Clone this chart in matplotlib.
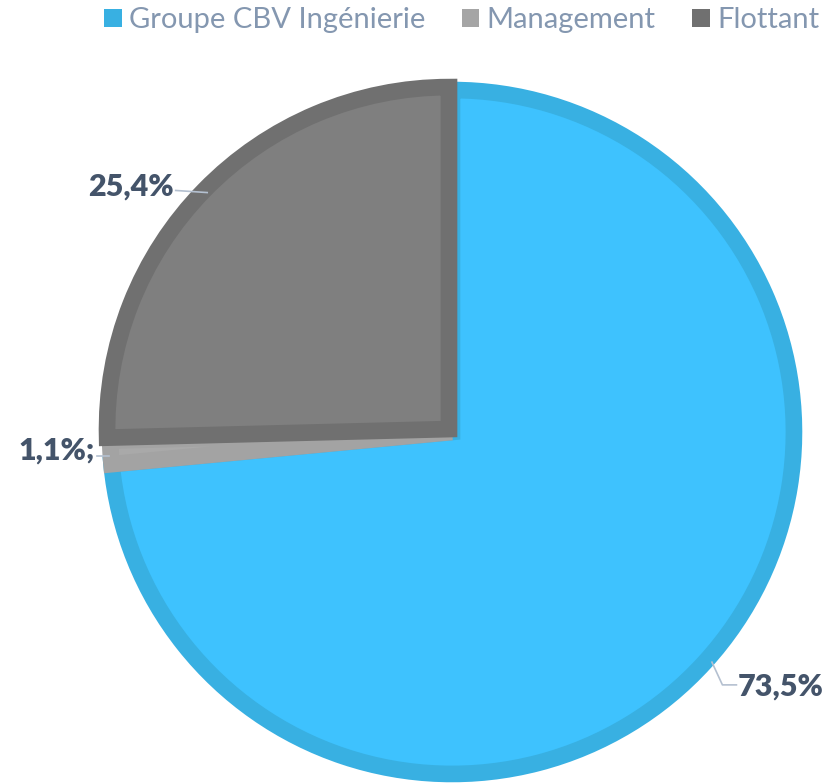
import numpy as np
import matplotlib.pyplot as plt
from matplotlib.patches import Patch

# Shareholding data
labels = ["Groupe CBV Ingénierie", "Management", "Flottant"]
shares = [73.5, 1.1, 25.4]
value_labels = ["73,5%", "1,1%;", "25,4%"]

fill_colors = ["#3EC2FE", "#A9A9A9", "#7F7F7F"]
edge_colors = ["#38B0E2", "#A3A3A3", "#707070"]
legend_colors = ["#38B0E2", "#A5A5A5", "#707070"]

plt.rcParams["font.family"] = ["Lato", "DejaVu Sans"]

fig = plt.figure(figsize=(8.35, 7.84), dpi=100)
cx, cy, r = 452, 432, 350
ax = fig.add_axes([(cx - r) / 835, (784 - cy - r) / 784, 2 * r / 835, 2 * r / 784])

wedges, _ = ax.pie(shares, colors=fill_colors, startangle=90, counterclock=False,
                   explode=[0, 0, 0.012], radius=0.977,
                   wedgeprops=dict(linewidth=12, edgecolor="none"))
for w, ec in zip(wedges, edge_colors):
    w.set_edgecolor(ec)
    w.set_clip_path(w)

ax.set_xlim(-1, 1)
ax.set_ylim(-1, 1)
ax.set_aspect("equal")
ax.axis("off")

label_color = "#44546A"
line_color = "#B4C0D0"

# leader lines and value labels
for i, w in enumerate(wedges):
    mid = np.deg2rad((w.theta1 + w.theta2) / 2)
    px, py = np.cos(mid) * w.r, np.sin(mid) * w.r
    if i == 0:
        xs = [px + 0.02, px + 0.05, px + 0.09]
        ys = [py, py - 0.065, py - 0.065]
        ax.plot(xs, ys, color=line_color, lw=1.2, clip_on=False)
        ax.text(xs[-1] + 0.005, ys[-1] - 0.005, value_labels[i], color=label_color,
                fontsize=22, fontweight="heavy", ha="left", va="center")
    elif i == 1:
        xs = [px - 0.005, px - 0.04]
        ys = [py - 0.01, py - 0.01]
        ax.plot(xs, ys, color=line_color, lw=1.2, clip_on=False)
        ax.text(xs[-1] - 0.005, ys[-1] + 0.015, value_labels[i], color=label_color,
                fontsize=22, fontweight="heavy", ha="right", va="center")
    else:
        xs = [px, px - 0.09]
        ys = [py + 0.002, py + 0.008]
        ax.plot(xs, ys, color=line_color, lw=1.2, clip_on=False)
        ax.text(xs[-1] - 0.005, ys[-1] + 0.01, value_labels[i], color=label_color,
                fontsize=22, fontweight="heavy", ha="right", va="center")

handles = [Patch(facecolor=c, edgecolor="none") for c in legend_colors]
leg = fig.legend(handles, labels, loc="upper center", bbox_to_anchor=(0.553, 1.024),
                 ncol=3, frameon=False, fontsize=21, handlelength=0.6,
                 handleheight=0.6, handletextpad=0.25, columnspacing=1.25)
for t in leg.get_texts():
    t.set_color("#8497B0")

fig.savefig("out.png", dpi=100)
